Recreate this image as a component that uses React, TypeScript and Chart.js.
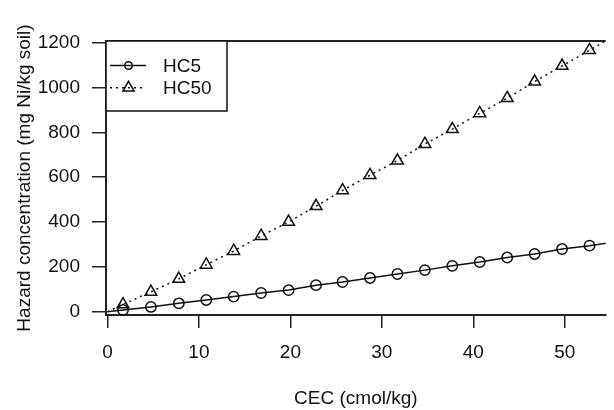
import React, { useEffect, useRef } from "react";
import { Chart, registerables } from "chart.js";

Chart.register(...registerables);

// CEC values (cmol/kg); first entry is the origin where the fitted lines start
const cec = [0, 1.7, 4.75, 7.8, 10.8, 13.8, 16.8, 19.8, 22.8, 25.7, 28.7, 31.7, 34.7, 37.7, 40.7, 43.7, 46.7, 49.7, 52.7, 55.7];
const hc5 = [0, 8, 22, 38, 53, 68, 84, 97, 119, 133, 151, 169, 186, 205, 222, 242, 258, 280, 295, 313];
const hc50 = [0, 33, 89, 147, 210, 271, 338, 401, 471, 541, 609, 674, 748, 814, 885, 952, 1026, 1096, 1166, 1237];
const seriesNames = ["HC5", "HC50"];
const xTicks = [0, 10, 20, 30, 40, 50];
const yTicks = [0, 200, 400, 600, 800, 1000, 1200];
const xTitle = "CEC (cmol/kg)";
const yTitle = "Hazard concentration (mg Ni/kg soil)";

const FONT = "'Liberation Sans', Arial, sans-serif";
const INK = "#111";
const AXIS = "#222";

function marker(ctx: CanvasRenderingContext2D, style: string, r: number, x: number, y: number) {
  ctx.beginPath();
  if (style === "triangle") {
    for (let k = 0; k < 3; k++) {
      const a = (k * 2 * Math.PI) / 3;
      const px = x + Math.sin(a) * r;
      const py = y - Math.cos(a) * r;
      if (k === 0) ctx.moveTo(px, py);
      else ctx.lineTo(px, py);
    }
    ctx.closePath();
  } else {
    ctx.arc(x, y, r, 0, Math.PI * 2);
  }
  ctx.stroke();
}

const boxPlugin = {
  id: "boxAndLegend",
  afterDraw(chart: any) {
    const { ctx, chartArea } = chart;
    ctx.save();
    // top border of the plot box
    ctx.strokeStyle = AXIS;
    ctx.lineWidth = 2;
    ctx.beginPath();
    ctx.moveTo(chartArea.left - 1, chartArea.top);
    ctx.lineTo(chartArea.right, chartArea.top);
    ctx.stroke();

    // legend box
    const bx = chartArea.left;
    const by = chartArea.top;
    const bw = 121;
    const bh = 70;
    ctx.fillStyle = "#fff";
    ctx.fillRect(bx, by, bw, bh);
    ctx.lineWidth = 1.5;
    ctx.strokeStyle = INK;
    ctx.strokeRect(bx, by, bw, bh);

    const rows = [24.5, 46.8];
    chart.data.datasets.forEach((ds: any, i: number) => {
      const y = by + rows[i];
      ctx.save();
      ctx.strokeStyle = INK;
      ctx.lineWidth = 1.5;
      ctx.setLineDash(ds.borderDash || []);
      ctx.beginPath();
      ctx.moveTo(bx + 4, y);
      ctx.lineTo(bx + 40, y);
      ctx.stroke();
      ctx.setLineDash([]);
      const r = ds.pointStyle === "triangle" ? 6.5 : 3.8;
      marker(ctx, ds.pointStyle, r, bx + 22.5, y);
      ctx.restore();
      ctx.fillStyle = INK;
      ctx.font = `19px ${FONT}`;
      ctx.textAlign = "left";
      ctx.textBaseline = "middle";
      ctx.fillText(ds.label, bx + 57, y + 1);
    });
    ctx.restore();
  },
};

export default function App() {
  const ref = useRef<HTMLCanvasElement | null>(null);

  useEffect(() => {
    document.body.style.margin = "0";
    if (!ref.current) return;
    Chart.defaults.font.family = FONT;
    Chart.defaults.font.size = 19;
    Chart.defaults.color = INK;

    const mkPoints = (vals: number[]) => cec.map((x, i) => ({ x, y: vals[i] }));

    const chart = new Chart(ref.current, {
      type: "line",
      data: {
        datasets: [
          {
            label: seriesNames[0],
            data: mkPoints(hc5),
            borderColor: INK,
            borderWidth: 1.5,
            pointStyle: "circle",
            pointRadius: (c: any) => (c.dataIndex === 0 ? 0 : 5.2),
            pointBorderColor: INK,
            pointBackgroundColor: "rgba(0,0,0,0)",
            pointBorderWidth: 1.5,
            tension: 0,
          },
          {
            label: seriesNames[1],
            data: mkPoints(hc50),
            borderColor: INK,
            borderWidth: 1.5,
            borderDash: [2, 4],
            pointStyle: "triangle",
            pointRadius: (c: any) => (c.dataIndex === 0 ? 0 : 6.8),
            pointBorderColor: INK,
            pointBackgroundColor: "rgba(0,0,0,0)",
            pointBorderWidth: 1.5,
            tension: 0,
          },
        ],
      },
      options: {
        animation: false,
        responsive: false,
        events: [],
        layout: { padding: { top: 41, left: 0, right: 0, bottom: 0 } },
        plugins: { legend: { display: false }, tooltip: { enabled: false } },
        scales: {
          x: {
            type: "linear",
            min: -0.16,
            max: 54.47,
            afterBuildTicks: (s: any) => {
              s.ticks = xTicks.map((v) => ({ value: v }));
            },
            afterFit: (s: any) => {
              s.height = 95;
            },
            ticks: { padding: 13, color: INK, font: { size: 19 }, callback: (v: any) => String(v) },
            grid: { drawOnChartArea: false, drawTicks: true, tickLength: 13, tickColor: AXIS, lineWidth: 1.5 },
            border: { display: true, color: AXIS, width: 2 },
            title: { display: true, text: xTitle, color: INK, font: { size: 19 }, padding: { top: 0, bottom: 0 } },
          },
          y: {
            type: "linear",
            min: -14,
            max: 1207,
            afterBuildTicks: (s: any) => {
              s.ticks = yTicks.map((v) => ({ value: v }));
            },
            afterFit: (s: any) => {
              s.width = 106;
            },
            ticks: { padding: 12, color: INK, font: { size: 19 }, callback: (v: any) => String(v) },
            grid: { drawOnChartArea: false, drawTicks: true, tickLength: 14, tickColor: AXIS, lineWidth: 1.5 },
            border: { display: true, color: AXIS, width: 2 },
            title: { display: true, text: yTitle, color: INK, font: { size: 19 }, padding: { top: 13, bottom: 0 } },
          },
        },
      },
      plugins: [boxPlugin],
    } as any);
    return () => chart.destroy();
  }, []);

  return (
    <div style={{ position: "fixed", left: 0, top: 0, width: 614, height: 410, background: "#fff" }}>
      <canvas ref={ref} width={614} height={410} style={{ display: "block" }} />
    </div>
  );
}
